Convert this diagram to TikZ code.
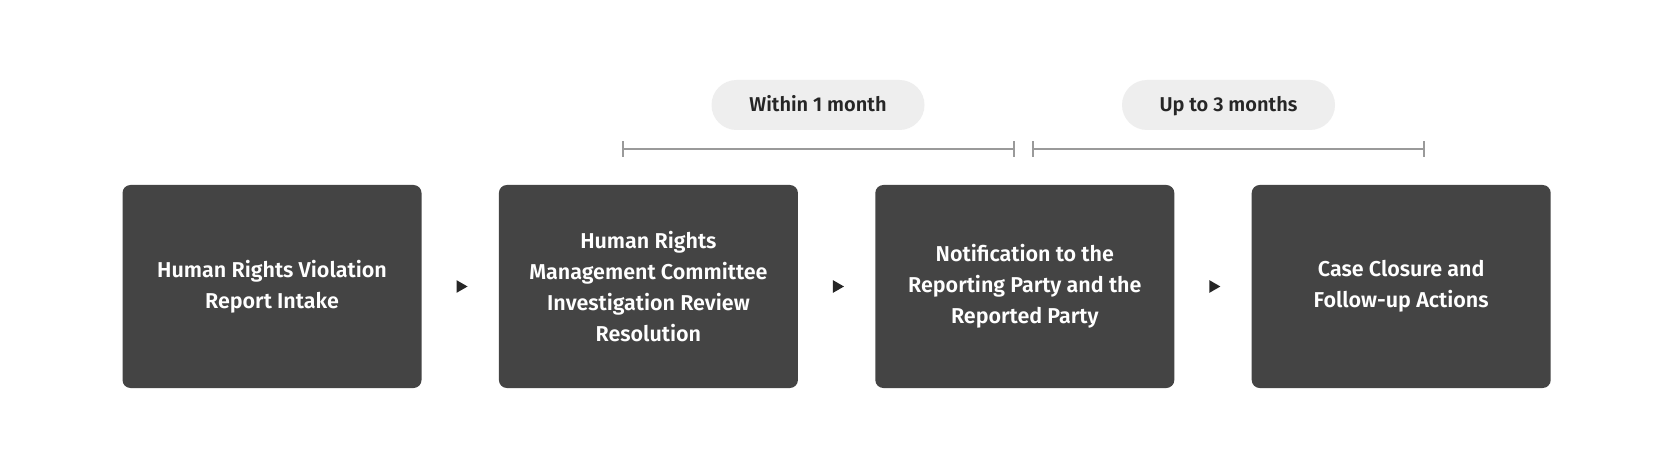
\documentclass[tikz,border=0pt]{standalone}
\usepackage{fontspec}
\setmainfont{Fira Sans}[BoldFont={Fira Sans SemiBold}]
\usetikzlibrary{positioning,calc,shapes.geometric}
\definecolor{stepgray}{HTML}{444444}
\definecolor{pillgray}{HTML}{EEEEEE}
\definecolor{barkgray}{HTML}{9A9A9A}
\tikzset{font=\bfseries}
\tikzset{stepbox/.style={fill=stepgray,rounded corners=8pt,minimum width=299pt,minimum height=203pt,
  text=white,align=center,font=\fontsize{21.5}{31}\selectfont\bfseries,inner sep=0pt}}
\tikzset{pill/.style={fill=pillgray,rounded corners=25pt,minimum width=213pt,minimum height=50pt,
  text=black!85,font=\fontsize{20}{22}\selectfont\bfseries,inner sep=0pt,text height=14pt,text depth=0pt}}
\tikzset{tri/.style={isosceles triangle,isosceles triangle apex angle=60,fill=black!85,
  inner sep=0pt,minimum height=11pt,minimum width=12pt}}

\begin{document}
\begin{tikzpicture}[x=1pt,y=1pt]
\useasboundingbox[fill=white] (0,0) rectangle (1672,469);
\node[stepbox] (intake) at (272,182.5) {Human Rights Violation\\Report Intake};
\node[stepbox,right=77pt of intake] (review) {Human Rights\\Management Committee\\Investigation Review\\Resolution};
\node[stepbox,right=77pt of review] (notify) {Notification to the\\Reporting Party and the\\Reported Party};
\node[stepbox,right=77pt of notify] (closure) {Case Closure and\\Follow-up Actions};
\node[tri] (t1) at ($(intake.east)!0.5!(review.west)$) {};
\node[tri] (t2) at ($(review.east)!0.5!(notify.west)$) {};
\node[tri] (t3) at ($(notify.east)!0.5!(closure.west)$) {};
\node[pill] (month) at (818,364) {Within 1 month};
\node[pill] (months) at (1228.5,364) {Up to 3 months};
% brackets under the time spans
\coordinate (a1) at (623,320);
\coordinate (a2) at (1014,320);
\coordinate (b1) at (1033,320);
\coordinate (b2) at (1424,320);
\draw[barkgray,line width=1.3pt] (a1)--(a2) (b1)--(b2);
\foreach \p in {a1,a2,b1,b2}
  \draw[barkgray,line width=1.3pt] ($(\p)+(0,-8)$)--($(\p)+(0,8)$);
\end{tikzpicture}
\end{document}
